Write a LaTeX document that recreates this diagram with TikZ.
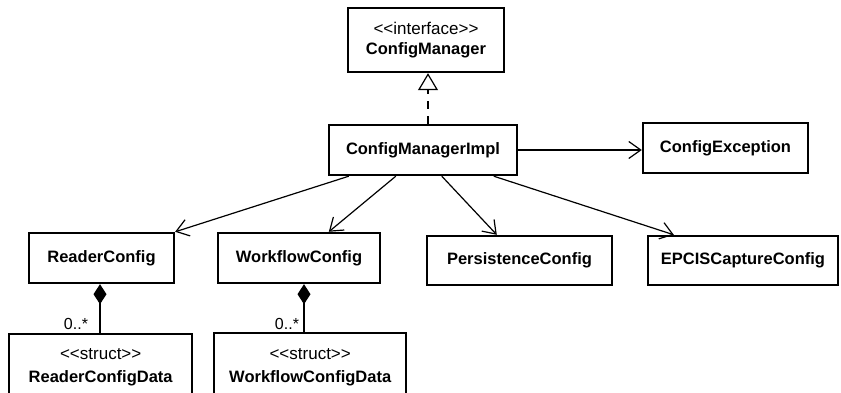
\documentclass[tikz,border=0pt]{standalone}
\usepackage{fontspec}
\setmainfont{Liberation Sans}
\usetikzlibrary{arrows.meta,calc}
\newcommand\stereofnt{\mdseries\fontsize{17}{19}\selectfont}
\begin{document}
\begin{tikzpicture}[x=1pt,y=-1pt,
  box/.style={draw, line width=2.4pt, inner sep=0pt, align=center,
    font=\bfseries\fontsize{16.5}{20}\selectfont},
  lbl/.style={inner sep=0pt, font=\bfseries\fontsize{16.5}{20}\selectfont},
  stereo/.style={inner sep=0pt, font=\stereofnt},
  mult/.style={inner sep=0pt, font=\fontsize{16}{18}\selectfont},
  assoc/.style={line width=1.2pt, -{Straight Barb[length=12pt,width=17pt,line width=1.2pt]}},
  real/.style={line width=1.2pt, dash pattern=on 8pt off 7pt,
    -{Triangle[open,length=17pt,width=20pt,line width=1.2pt]}},
  comp/.style={line width=1.2pt, {Diamond[length=20pt,width=13pt]}-}
]
\useasboundingbox (0,0) rectangle (841,393);
\fill[white] (0,0) rectangle (841,393);
\clip (0,0) rectangle (841,393);

\node[box, minimum width=156pt, minimum height=64pt] (cm) at (426,40)
  {{\stereofnt <{}<interface>{}>}\\[0pt]ConfigManager};
\node[box, minimum width=188pt, minimum height=50pt] (impl) at (423,150) {ConfigManagerImpl};
\node[box, minimum width=165pt, minimum height=50pt] (exc) at (725.5,148) {ConfigException};
\node[box, minimum width=145pt, minimum height=50pt] (rc) at (101.5,258) {ReaderConfig};
\node[box, minimum width=162pt, minimum height=50pt] (wc) at (299,258) {WorkflowConfig};
\node[box, minimum width=185pt, minimum height=49pt] (pc) at (519.5,260.5) {PersistenceConfig};
\node[box, minimum width=190pt, minimum height=49pt] (ec) at (743,260.5) {EPCISCaptureConfig};

\node[box, minimum width=183pt, minimum height=70pt, anchor=north west] (rcd) at (8,333) {};
\node[stereo] (rcds) at ($(rcd.north)+(0,21)$) {<{}<struct>{}>};
\node[lbl] (rcdn) at ($(rcd.north)+(0,45)$) {ReaderConfigData};
\node[box, minimum width=192pt, minimum height=70pt, anchor=north west] (wcd) at (213,332) {};
\node[stereo] (wcds) at ($(wcd.north)+(0,22)$) {<{}<struct>{}>};
\node[lbl] (wcdn) at ($(wcd.north)+(0,46)$) {WorkflowConfigData};

% realization
\draw[real] (impl.north -| 428,0) -- (cm.south -| 428,0);
% associations
\draw[assoc] (impl.east) -- (exc.west |- impl.east);
\draw[assoc] ($(impl.south west)+(21,0)$) -- (rc.north east);
\draw[assoc] ($(impl.south west)+(68,0)$) -- ($(wc.north west)+(112,0)$);
\draw[assoc] ($(impl.south west)+(114,0)$) -- ($(pc.north west)+(71,0)$);
\draw[assoc] ($(impl.south west)+(166,0)$) -- ($(ec.north west)+(27,0)$);
% compositions
\draw[comp] (rc.south -| 100,0) -- (rcd.north -| 100,0);
\draw[comp] (wc.south -| 304,0) -- (wcd.north -| 304,0);
\node[mult] (m1) at (76,324) {0..*};
\node[mult] (m2) at (287,324) {0..*};
\end{tikzpicture}
\end{document}
